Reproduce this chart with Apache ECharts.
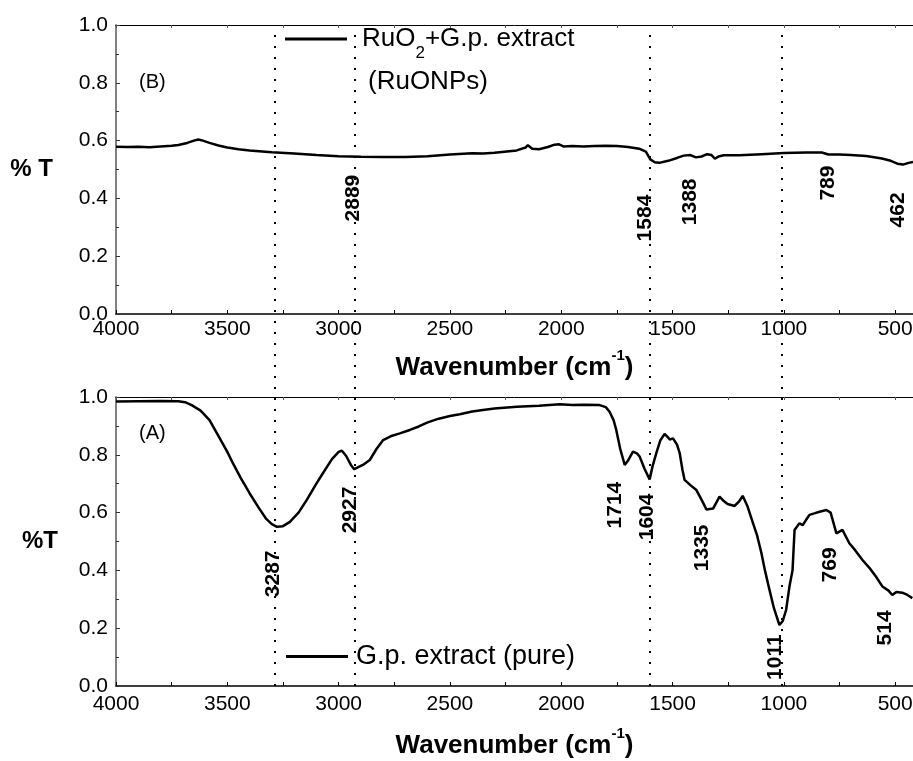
<!DOCTYPE html>
<html>
<head>
<meta charset="utf-8">
<script src="https://cdn.jsdelivr.net/npm/echarts@6/dist/echarts.min.js"></script>
<style>html,body{margin:0;padding:0;background:#fff}#c{width:913px;height:761px}</style>
</head>
<body>
<div id="c"></div>
<script>
// ---- data ----
const wnB = [4000,3950,3900,3850,3800,3750,3720,3680,3650,3630,3610,3580,3540,3500,3450,3400,3300,3200,3100,3000,2900,2800,2700,2600,2500,2400,2350,2300,2200,2160,2150,2130,2100,2060,2030,2010,1990,1950,1900,1850,1800,1750,1700,1650,1620,1600,1580,1560,1520,1480,1450,1420,1395,1370,1345,1325,1310,1290,1270,1200,1100,1000,900,830,800,750,700,630,560,520,490,465,440,420];
const tB  = [0.579,0.578,0.579,0.577,0.580,0.582,0.585,0.592,0.600,0.604,0.600,0.592,0.583,0.576,0.570,0.566,0.560,0.555,0.550,0.546,0.544,0.543,0.543,0.546,0.552,0.556,0.555,0.558,0.566,0.576,0.584,0.572,0.570,0.578,0.586,0.587,0.580,0.581,0.580,0.581,0.582,0.581,0.578,0.572,0.562,0.535,0.525,0.523,0.530,0.540,0.548,0.550,0.542,0.545,0.553,0.550,0.538,0.546,0.549,0.549,0.553,0.557,0.559,0.559,0.552,0.552,0.550,0.547,0.538,0.530,0.520,0.517,0.523,0.526];

const wnA = [4000,3900,3800,3720,3690,3660,3620,3580,3547,3500,3475,3440,3400,3360,3325,3300,3277,3250,3219,3180,3143,3100,3070,3030,3000,2985,2966,2945,2930,2910,2891,2860,2830,2800,2760,2725,2680,2640,2600,2550,2500,2456,2400,2352,2300,2200,2100,2007,1950,1900,1828,1800,1783,1765,1753,1735,1715,1700,1678,1660,1648,1625,1603,1590,1573,1555,1536,1520,1513,1498,1480,1468,1456,1446,1420,1393,1370,1348,1318,1289,1270,1253,1221,1200,1185,1163,1141,1120,1101,1085,1070,1045,1020,1005,990,975,961,952,930,915,900,885,860,840,809,790,764,737,706,680,647,615,586,557,530,513,495,468,445,423];
const tA  = [0.984,0.985,0.986,0.985,0.982,0.972,0.953,0.920,0.875,0.810,0.771,0.720,0.667,0.618,0.578,0.560,0.551,0.553,0.568,0.600,0.644,0.700,0.737,0.785,0.810,0.814,0.796,0.765,0.750,0.758,0.765,0.782,0.820,0.851,0.866,0.874,0.886,0.898,0.912,0.925,0.934,0.940,0.950,0.955,0.960,0.966,0.970,0.975,0.972,0.973,0.972,0.965,0.949,0.920,0.886,0.820,0.765,0.780,0.811,0.805,0.794,0.750,0.715,0.760,0.806,0.850,0.872,0.860,0.853,0.857,0.835,0.806,0.750,0.713,0.695,0.678,0.645,0.611,0.614,0.655,0.640,0.630,0.623,0.640,0.658,0.621,0.569,0.520,0.460,0.400,0.350,0.270,0.211,0.225,0.263,0.344,0.401,0.540,0.563,0.557,0.575,0.592,0.598,0.603,0.609,0.600,0.528,0.540,0.494,0.470,0.436,0.408,0.378,0.344,0.330,0.315,0.325,0.323,0.315,0.304];

const xLabelValues = [4000,3500,3000,2500,2000,1500,1000,500];
const xTickValues  = [4000,3750,3500,3250,3000,2750,2500,2250,2000,1750,1500,1250,1000,750,500];
const markerLines = [3287, 2927, 1604, 1011];
const peaksB = ['2889','1584','1388','789','462'];
const peaksA = ['3287','2927','1714','1604','1335','769','514','1011'];

// ---- layout (label anchors in axis units) ----
const peakPosB = [[2935,0.401],[1624,0.332],[1422,0.388],[802,0.453],[487,0.360]];
const peakPosA = [[3295,0.388],[2949,0.609],[1759,0.626],[1615,0.585],[1368,0.478],[793,0.419],[546,0.201],[1040,0.100]];

const FONT = '"Liberation Sans", Arial, Helvetica, sans-serif';
const XMIN = 420, XMAX = 4000;

function zip(a,b){ return a.map((v,i)=>[v,b[i]]); }

function bottomX(gridIndex, gap, margin){
  return {
    type:'value', gridIndex, inverse:true, min:XMIN, max:XMAX, position:'bottom',
    axisLine:{show:true, lineStyle:{color:'#000', width:1.5}},
    axisTick:{show:true, inside:true, length:4, customValues:xTickValues, lineStyle:{color:'#000'}},
    axisLabel:{show:true, customValues:xLabelValues, fontSize:21, color:'#000', fontFamily:FONT, margin:margin,
      showMinLabel:true, showMaxLabel:true, hideOverlap:false, formatter:v=>String(v)},
    splitLine:{show:false},
    name:'{b|Wavenumber (cm}{s|-1}{b|)}', nameLocation:'middle', nameGap:gap,
    nameTextStyle:{rich:{
      b:{fontSize:26, fontWeight:'bold', color:'#000', fontFamily:FONT},
      s:{fontSize:15, fontWeight:'bold', color:'#000', fontFamily:FONT, padding:[0,0,24,0]}
    }}
  };
}
function topX(gridIndex){
  return {
    type:'value', gridIndex, inverse:true, min:XMIN, max:XMAX, position:'top',
    axisLine:{show:true, lineStyle:{color:'#000', width:1}},
    axisTick:{show:true, inside:true, length:3, customValues:xTickValues, lineStyle:{color:'#555'}},
    axisLabel:{show:false}, splitLine:{show:false}
  };
}
function leftY(gridIndex, name, gap, pad){
  return {
    type:'value', gridIndex, min:0, max:1, interval:0.2,
    axisLine:{show:true, lineStyle:{color:'#808080', width:2}},
    axisTick:{show:true, inside:true, length:4, lineStyle:{color:'#333'}},
    minorTick:{show:true, splitNumber:2, length:3, lineStyle:{color:'#333'}},
    axisLabel:{fontSize:21, color:'#000', fontFamily:FONT, margin:8, formatter:v=>v.toFixed(1)},
    splitLine:{show:false},
    name:name, nameLocation:'middle', nameRotate:0, nameGap:gap,
    nameTextStyle:{fontSize:24, fontWeight:'bold', color:'#000', fontFamily:FONT, padding:pad}
  };
}
function peakSeries(xi, yi, pos, texts){
  return {
    type:'scatter', xAxisIndex:xi, yAxisIndex:yi, symbolSize:0, silent:true, z:5,
    itemStyle:{opacity:1, color:'#000'},
    data: pos.map((p,i)=>({value:p, label:{formatter:texts[i]}})),
    label:{show:true, position:'inside', rotate:90, fontSize:21, fontWeight:'bold', color:'#000',
      opacity:1, textBorderWidth:0, fontFamily:FONT}
  };
}

const chart = echarts.init(document.getElementById('c'), null, {renderer:'canvas'});
const gridBase = {left:116, right:0, containLabel:false, outerBoundsMode:'none'};
chart.setOption({
  animation:false,
  backgroundColor:'#fff',
  grid:[
    Object.assign({top:25, height:289}, gridBase),
    Object.assign({top:397, height:289}, gridBase),
    Object.assign({top:25, height:661}, gridBase)
  ],
  xAxis:[
    bottomX(0, 34, 5),
    bottomX(1, 40, 8),
    {type:'value', gridIndex:2, inverse:true, min:XMIN, max:XMAX, show:false},
    topX(0),
    topX(1)
  ],
  yAxis:[
    leftY(0, '% T', 63, [10,0,0,0]),
    leftY(1, '%T', 58, [0,0,42,0]),
    {type:'value', gridIndex:2, min:0, max:1, show:false}
  ],
  legend:[
    {
      data:['RuO2+G.p. extract'], left:285, top:26, padding:0,
      icon:'rect', itemWidth:62, itemHeight:3,
      formatter:()=> '{a|RuO}{s|2}{a|+G.p. extract}',
      textStyle:{padding:[0,0,0,10], rich:{
        a:{fontSize:26, color:'#000', fontFamily:FONT},
        s:{fontSize:17, color:'#000', fontFamily:FONT, padding:[28,0,0,0]}
      }}
    },
    {
      data:['G.p. extract (pure)'], left:286, top:643, padding:0,
      icon:'rect', itemWidth:62, itemHeight:3,
      textStyle:{fontSize:27, color:'#000', fontFamily:FONT, padding:[0,0,0,3]}
    }
  ],
  graphic:[
    {type:'text', left:139, top:72, style:{text:'(B)', fontSize:20, fill:'#000', fontFamily:FONT}},
    {type:'text', left:139, top:423, style:{text:'(A)', fontSize:20, fill:'#000', fontFamily:FONT}},
    {type:'text', left:368, top:69, style:{text:'(RuONPs)', fontSize:26, fill:'#000', fontFamily:FONT}}
  ],
  series:[
    {name:'RuO2+G.p. extract', type:'line', xAxisIndex:0, yAxisIndex:0, data:zip(wnB,tB),
     showSymbol:false, symbol:'none', lineStyle:{color:'#000', width:2.5}, itemStyle:{color:'#000'}, z:3},
    {name:'G.p. extract (pure)', type:'line', xAxisIndex:1, yAxisIndex:1, data:zip(wnA,tA),
     showSymbol:false, symbol:'none', lineStyle:{color:'#000', width:2.5}, itemStyle:{color:'#000'}, z:3},
    {type:'line', xAxisIndex:2, yAxisIndex:2, data:[], silent:true,
     markLine:{symbol:['none','none'], silent:true, animation:false,
       label:{show:false},
       lineStyle:{color:'#000', width:2, type:[2,9]},
       data: markerLines.map(v=>({xAxis:v}))}},
    peakSeries(0,0,peakPosB,peaksB),
    peakSeries(1,1,peakPosA,peaksA)
  ]
});
</script>
</body>
</html>
